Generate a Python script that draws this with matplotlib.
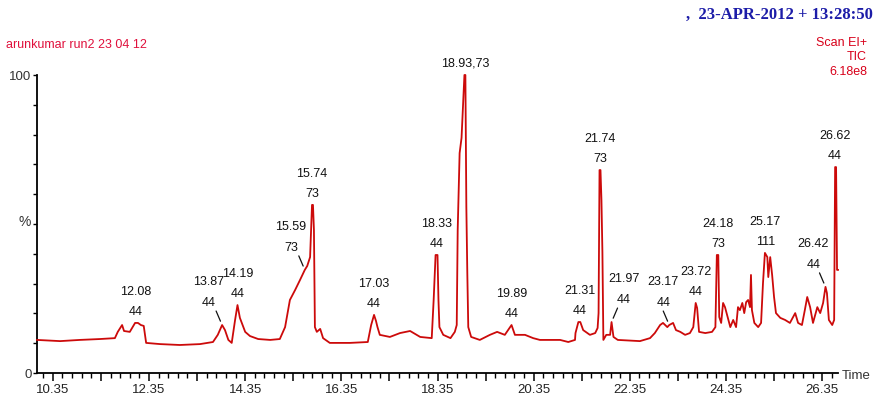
import matplotlib.pyplot as plt

# TIC trace: retention time (min) and relative abundance (%)
rt = [10.02, 10.50, 10.91, 11.33, 11.64, 11.70, 11.79, 11.83, 11.95, 12.06,
      12.12, 12.18, 12.24, 12.29, 12.58, 12.99, 13.41, 13.68, 13.78, 13.87,
      13.93, 14.00, 14.07, 14.14, 14.19, 14.24, 14.35, 14.45, 14.62, 14.87,
      15.07, 15.18, 15.28, 15.39, 15.49, 15.59, 15.64, 15.70, 15.72, 15.74,
      15.76, 15.78, 15.80, 15.84, 15.91, 15.97, 16.11, 16.53, 16.90, 16.97,
      17.03, 17.07, 17.10, 17.15, 17.36, 17.57, 17.78, 17.99, 18.23, 18.27,
      18.31, 18.35, 18.37, 18.39, 18.47, 18.62, 18.71, 18.75, 18.77, 18.81,
      18.85, 18.89, 18.91, 18.93, 18.95, 18.97, 18.99, 19.05, 19.23, 19.44,
      19.59, 19.75, 19.89, 19.96, 20.17, 20.34, 20.48, 20.90, 21.07, 21.21,
      21.22, 21.28, 21.32, 21.38, 21.52, 21.63, 21.68, 21.70, 21.72, 21.74,
      21.76, 21.78, 21.80, 21.86, 21.94, 21.97, 22.01, 22.10, 22.56, 22.77,
      22.87, 22.98, 23.04, 23.13, 23.17, 23.25, 23.31, 23.40, 23.50, 23.60,
      23.67, 23.72, 23.75, 23.79, 23.92, 24.06, 24.13, 24.16, 24.19, 24.21,
      24.25, 24.29, 24.33, 24.44, 24.50, 24.56, 24.60, 24.64, 24.69, 24.73,
      24.77, 24.81, 24.85, 24.87, 24.89, 24.94, 25.02, 25.08, 25.12, 25.16,
      25.21, 25.23, 25.27, 25.31, 25.35, 25.39, 25.48, 25.58, 25.68, 25.79,
      25.85, 25.93, 25.99, 26.04, 26.10, 26.16, 26.25, 26.31, 26.37, 26.42,
      26.45, 26.49, 26.56, 26.60, 26.62, 26.64, 26.66, 26.68]
abund = [11.1, 10.7, 11.1, 11.4, 11.7, 13.8, 16.1, 14.1, 13.8, 16.8,
         16.8, 16.1, 15.8, 10.1, 9.7, 9.4, 9.7, 10.4, 12.8, 16.1,
         14.4, 11.1, 10.1, 17.8, 22.8, 18.5, 13.8, 12.4, 11.4, 11.1,
         11.4, 15.4, 24.5, 27.9, 31.2, 34.6, 35.9, 38.9, 48.0, 56.4,
         56.4, 48.0, 15.4, 13.8, 14.8, 11.7, 10.1, 10.1, 10.4, 16.1,
         19.5, 17.5, 15.5, 12.8, 12.1, 13.4, 14.1, 12.1, 11.7, 24.5,
         39.6, 39.6, 24.5, 15.4, 12.8, 11.7, 13.8, 16.1, 48.0, 73.8,
         78.9, 92.6, 100.0, 100.0, 55.7, 33.6, 15.4, 12.1, 11.1, 12.8,
         13.8, 12.8, 16.1, 12.8, 12.8, 11.7, 11.1, 11.1, 10.4, 11.1,
         13.4, 17.1, 17.1, 14.4, 12.8, 13.4, 15.1, 20.1, 68.1, 68.1,
         58.0, 40.6, 11.1, 12.8, 12.8, 17.1, 12.1, 11.1, 10.7, 11.7,
         13.4, 16.1, 16.8, 15.4, 16.1, 16.8, 14.4, 13.8, 12.8, 13.4,
         15.4, 23.5, 21.8, 13.8, 13.4, 13.8, 15.4, 39.6, 39.6, 18.8,
         16.8, 23.5, 22.1, 15.4, 17.8, 15.4, 22.1, 21.1, 23.5, 20.1,
         23.8, 24.5, 22.1, 32.9, 21.1, 16.8, 15.4, 16.8, 30.2, 40.3,
         38.9, 32.2, 38.9, 32.9, 25.5, 20.1, 18.5, 17.8, 16.8, 20.1,
         16.8, 16.1, 21.1, 25.5, 22.1, 16.8, 22.1, 20.1, 23.5, 28.9,
         26.8, 17.8, 16.1, 17.8, 69.1, 69.1, 34.6, 34.6]

# labelled peaks: retention time, base ion, apex height (%)
peak_rt = [12.08, 13.87, 14.19, 15.59, 15.74, 17.03, 18.33, 18.93, 19.89,
           21.31, 21.74, 21.97, 23.17, 23.72, 24.18, 25.17, 26.42, 26.62]
peak_mz = ['44', '44', '44', '73', '73', '44', '44', '73', '44',
           '44', '73', '44', '44', '44', '73', '111', '44', '44']
peak_top = [16.8, 16.1, 22.8, 34.6, 56.4, 19.5, 39.6, 100.0, 16.1,
            17.1, 68.1, 17.1, 16.1, 23.5, 39.6, 40.3, 28.9, 69.1]

# labels pushed aside with a short leader line (x shift in px)
leader_dx = {13.87: -13, 15.59: -14, 21.97: 12, 23.17: -6, 26.42: -12}

xtick_vals = [10.35, 12.35, 14.35, 16.35, 18.35, 20.35, 22.35, 24.35, 26.35]

sans = 'Liberation Sans'
red = '#cc0a0a'
P = 0.72  # px -> pt at 100 dpi

fig = plt.figure(figsize=(8.77, 4.03), dpi=100)
ax = fig.add_axes([37 / 877, 30 / 403, 801 / 877, 298 / 403])

ax.plot(rt, abund, color=red, lw=1.3, clip_on=False, zorder=3)

ax.set_xlim(10.02, 26.68)
ax.set_ylim(0, 100)
for s in ['top', 'right']:
    ax.spines[s].set_visible(False)
for s in ['left', 'bottom']:
    ax.spines[s].set_linewidth(1.3)

# x ticks: labels every 2 min, medium tick every minute, minor every 0.2 min
maj = [round(10.35 + i, 2) for i in range(17)]
ax.set_xticks(maj)
ax.set_xticklabels([f'{v:.2f}' if v in xtick_vals else '' for v in maj])
ax.set_xticks([10.15 + 0.2 * i for i in range(83)], minor=True)
ax.tick_params(axis='x', which='major', length=6, width=1.1, pad=2, labelsize=9.5, labelcolor='#222222')
ax.tick_params(axis='x', which='minor', length=3.5, width=1.0)
for lab in ax.get_xticklabels():
    lab.set_family(sans)

ax.set_yticks(range(0, 101, 10))
ax.set_yticklabels(['0'] + [''] * 9 + ['100'])
ax.tick_params(axis='y', length=3, width=1.0, pad=1, labelsize=9.5, labelcolor='#333333')
for lab in ax.get_yticklabels():
    lab.set_family(sans)

# peak annotations
for t, mz, h in zip(peak_rt, peak_mz, peak_top):
    kw = dict(xy=(t, h), textcoords='offset points', ha='center', va='center',
              fontsize=9, family=sans, color='#111111', annotation_clip=False)
    if t == 18.93:
        ax.annotate(f'{t:.2f},{mz}', xytext=(0, 12 * P), **kw)
    elif t in leader_dx:
        dx = leader_dx[t]
        ax.annotate(f'{t:.2f}', xytext=(dx * P, 43 * P), **kw)
        ax.annotate(mz, xytext=(dx * P, 22 * P), **kw)
        sgn = 1 if dx > 0 else -1
        ax.annotate('', xy=(t, h), xytext=(sgn * 6 * P, 14 * P), textcoords='offset points',
                    arrowprops=dict(arrowstyle='-', color='#111111', lw=0.9,
                                    shrinkA=0, shrinkB=3), annotation_clip=False)
    else:
        ax.annotate(f'{t:.2f}', xytext=(0, 31 * P), **kw)
        ax.annotate(mz, xytext=(0, 11 * P), **kw)

# header and axis texts
fig.text(6 / 877, 1 - 45 / 403, 'arunkumar run2 23 04 12', color='#e0103c',
         fontsize=9, family=sans, va='center', ha='left')
fig.text(873 / 877, 1 - 15 / 403, ',  23-APR-2012 + 13:28:50', color='#1c1ca8',
         fontsize=12, family='Liberation Serif', weight='bold', va='center', ha='right')
for txt, y in [('Scan EI+', 43), ('TIC', 57), ('6.18e8', 72)]:
    fig.text(867 / 877, 1 - y / 403, txt, color='#d8001a', fontsize=9,
             family=sans, va='center', ha='right')
fig.text(25 / 877, 1 - 222 / 403, '%', color='#333333', fontsize=10,
         family=sans, va='center', ha='center')
fig.text(842 / 877, 1 - 376 / 403, 'Time', color='#333333', fontsize=9.5,
         family=sans, va='center', ha='left')

fig.savefig('out.png', dpi=100)
